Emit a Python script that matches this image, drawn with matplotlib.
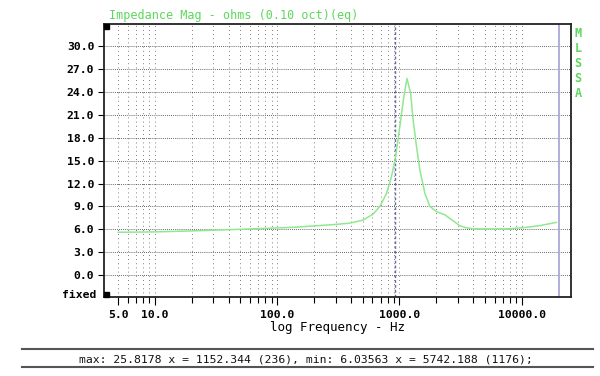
import matplotlib
matplotlib.use("Agg")
import matplotlib.pyplot as plt
from matplotlib.patches import Rectangle
from matplotlib.lines import Line2D

# impedance curve
freq = [5, 10, 22, 52, 134, 285, 393, 505, 610, 692, 784, 861, 929, 1007, 1086,
        1152, 1233, 1295, 1380, 1469, 1614, 1775, 2011, 2350, 2751, 3118, 3500,
        4010, 5742, 7510, 10270, 14050, 19240]
imp = [5.6, 5.65, 5.8, 6.0, 6.25, 6.6, 6.8, 7.2, 8.0, 9.0, 10.7, 12.9, 15.5, 19.5, 23.4,
       25.8, 23.9, 20.3, 16.8, 13.8, 10.7, 9.0, 8.3, 7.9, 7.1, 6.45, 6.2,
       6.05, 6.04, 6.05, 6.2, 6.47, 6.9]

yticks = [0, 3, 6, 9, 12, 15, 18, 21, 24, 27, 30]
xticks = [5, 10, 100, 1000, 10000]
xlabels = ["5.0", "10.0", "100.0", "1000.0", "10000.0"]
cursor_lo = 919
cursor_hi = 20000

title = "Impedance Mag - ohms (0.10 oct)(eq)"
status = "max: 25.8178 x = 1152.344 (236), min: 6.03563 x = 5742.188 (1176);"

green = "#5cd85c"
mono = "DejaVu Sans Mono"

fig = plt.figure(figsize=(6, 3.76), dpi=100)
ax = fig.add_axes([104/600, 1 - 297/376, 467/600, 273/376])
ax.set_xscale("log")
ax.set_xlim(3.83, 25300)
ax.set_ylim(-2.9, 32.95)

# minor vertical grid (dotted)
minors = []
for dec in [1, 10, 100, 1000]:
    for m in range(2, 10):
        minors.append(m * dec)
minors = [f for f in minors if f >= 5] + [10, 100, 1000, 10000]
for f in minors:
    ax.axvline(f, color="#555555", lw=0.6, ls=(0, (1, 4)), zorder=1)
for y in yticks:
    ax.axhline(y, color="#333333", lw=0.6, ls=(0, (1, 1.5)), zorder=1)

ax.axvline(cursor_lo, color="#6a6aa0", lw=1.0, ls=(0, (2, 1.5)), zorder=2)
ax.axvline(cursor_hi, color="#a8a8d8", lw=1.3, zorder=2)

ax.plot(freq, imp, color="#90e890", lw=1.1, zorder=3)

ax.set_yticks(yticks)
ax.set_yticklabels(["%.1f" % v for v in yticks], fontfamily=mono,
                   fontweight="bold", fontsize=8.2)
ax.set_xticks(xticks)
ax.set_xticklabels(xlabels, fontfamily=mono, fontweight="bold", fontsize=8.2)
ax.set_xticks([f for f in minors if f not in xticks], minor=True)
ax.tick_params(axis="x", which="minor", length=4, width=0.8, labelbottom=False)
ax.tick_params(axis="x", which="major", length=6, width=0.8, pad=3)
ax.tick_params(axis="y", which="major", length=4, width=0.8, pad=3)
ax.tick_params(axis="y", which="minor", length=0)

for s in ax.spines.values():
    s.set_linewidth(1.3)
    s.set_color("#222222")

ax.text(-0.016, 0.008, "fixed", transform=ax.transAxes, ha="right", va="center",
        fontfamily=mono, fontweight="bold", fontsize=8.2)

# corner squares
ax.add_patch(Rectangle((0, 1), 5/467, -5/273, transform=ax.transAxes,
                       color="black", zorder=5, clip_on=False))
ax.add_patch(Rectangle((0, 0), 5/467, 5/273, transform=ax.transAxes,
                       color="black", zorder=5, clip_on=False))

ax.set_xlabel("log Frequency - Hz", fontfamily=mono, fontsize=9, labelpad=1)

fig.text(109/600, 1 - 16/376, title, color=green, fontfamily=mono,
         fontsize=8.5, ha="left", va="center")
fig.text(578/600, 1 - 27/376, "M\nL\nS\nS\nA", color=green, fontfamily=mono,
         fontweight="bold", fontsize=8.5, ha="center", va="top", linespacing=1.2)

# status bar
fig.add_artist(Line2D([22/600, 593/600], [1 - 349/376] * 2, color="#555555", lw=1.5))
fig.add_artist(Line2D([22/600, 593/600], [1 - 367/376] * 2, color="#555555", lw=1.5))
fig.text(306/600, 1 - 359/376, status, fontfamily=mono, fontsize=8.2,
         ha="center", va="center", color="#111111")

fig.savefig("out.png", dpi=100)
